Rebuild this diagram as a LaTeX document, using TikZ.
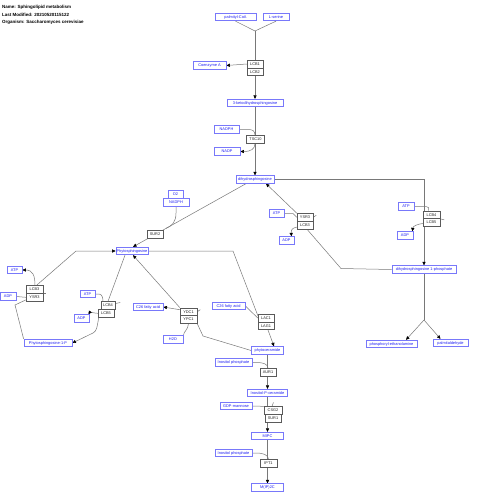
\documentclass[tikz,border=0pt]{standalone}
\usepackage{fontspec}
\setmainfont{Liberation Sans}
\usetikzlibrary{arrows.meta,backgrounds,calc}
\definecolor{metblue}{RGB}{30,30,245}
\definecolor{metborder}{RGB}{120,120,250}
\definecolor{edgegray}{RGB}{120,120,120}
\definecolor{enzborder}{RGB}{90,90,90}
\begin{document}
\begin{tikzpicture}[x=1pt,y=-1pt,
  met/.style={draw=metborder, line width=0.8pt, fill=white, text=metblue,
    font=\fontsize{3.9}{4.7}\selectfont, minimum height=7.5pt, inner sep=0pt},
  enz/.style={draw=enzborder, line width=0.5pt, fill=white, text=black!85,
    font=\fontsize{3.9}{4.7}\selectfont, minimum height=7.8pt, minimum width=16pt, inner sep=0pt},
  ttl/.style={anchor=west, inner sep=0pt, font=\bfseries\fontsize{4.5}{5.5}\selectfont},
  ln/.style={draw=edgegray, line width=0.5pt},
  arr/.style={ln, -{Triangle[length=3.5pt,width=3.2pt,black]}},
]
\useasboundingbox (0,0) rectangle (480,504);

% titles
\node[ttl] (t1) at (2,7) {Name: Sphingolipid metabolism};
\node[ttl] (t2) at (2,14.8) {Last Modified: 20210520115122};
\node[ttl] (t3) at (2,22.4) {Organism: Saccharomyces cerevisiae};

% metabolites
\node[met, minimum width=41pt] (palm) at (235.5,17) {palmityl-CoA};
\node[met, minimum width=26pt] (lser) at (276,17) {L-serine};
\node[met, minimum width=33pt] (coa) at (209.5,65.5) {Coenzyme A};
\node[met, minimum width=56pt] (keto) at (255,103) {3-ketodihydrosphingosine};
\node[met, minimum width=25pt] (nadph1) at (226.5,129.5) {NADPH};
\node[met, minimum width=26pt] (nadp) at (227,151.5) {NADP};
\node[met, minimum width=38pt] (dhs) at (255,179.5) {dihydrosphingosine};
\node[met, minimum width=64pt] (dhs1p) at (424,269.5) {dihydrosphingosine 1-phosphate};
\node[met, minimum width=15pt] (o2) at (175.5,194.5) {O2};
\node[met, minimum width=26pt] (nadph2) at (176,202.5) {NADPH};
\node[met, minimum width=32pt] (phyto) at (132,251) {Phytosphingosine};
\node[met, minimum width=15pt] (atp2) at (276.5,213.5) {ATP};
\node[met, minimum width=15pt] (adp2) at (286.5,240.5) {ADP};
\node[met, minimum width=16pt] (atp3) at (406,206.5) {ATP};
\node[met, minimum width=16pt] (adp3) at (405,235.5) {ADP};
\node[met, minimum width=15pt] (atp1) at (14.5,270) {ATP};
\node[met, minimum width=16pt] (adp1) at (8,296.5) {ADP};
\node[met, minimum width=48pt] (phyto1p) at (48,343) {Phytosphingosine-1-P};
\node[met, minimum width=15pt] (atp4) at (87.5,294) {ATP};
\node[met, minimum width=15pt] (adp4) at (81.5,318.5) {ADP};
\node[met, minimum width=30pt] (c26a) at (148,307) {C26 fatty acid};
\node[met, minimum width=20pt] (h2o) at (173,339.5) {H2O};
\node[met, minimum width=33pt] (c26b) at (228.5,306) {C26 fatty acid};
\node[met, minimum width=32pt] (phcer) at (267.5,350.5) {phytoceramide};
\node[met, minimum width=37pt] (ip1) at (233.5,362.5) {Inositol phosphate};
\node[met, minimum width=40pt] (ipc) at (267.5,393) {Inositol-P-ceramide};
\node[met, minimum width=32pt] (gdp) at (236,406) {GDP-mannose};
\node[met, minimum width=32pt] (mipc) at (267.5,436) {MIPC};
\node[met, minimum width=37pt] (ip2) at (233.5,453) {Inositol phosphate};
\node[met, minimum width=32pt] (mip2c) at (267.5,487.5) {M(IP)2C};
\node[met, minimum width=51pt] (pea) at (391.5,344) {phosphoryl-ethanolamine};
\node[met, minimum width=35pt] (palm2) at (450.5,343) {palmitaldehyde};

% enzymes
\node[enz] (lcb1) at (255,64) {LCB1};
\node[enz] (lcb2) at (255,71.8) {LCB2};
\node[enz, minimum width=18pt] (tsc10) at (255.5,139.5) {TSC10};
\node[enz] (sur2) at (155,234.5) {SUR2};
\node[enz] (ysr3b) at (305,217.3) {YSR3};
\node[enz] (lcb3b) at (305,225.1) {LCB3};
\node[enz, minimum width=17pt] (lcb4c) at (431.5,214.7) {LCB4};
\node[enz, minimum width=17pt] (lcb5c) at (431.5,222.5) {LCB5};
\node[enz, minimum width=17pt] (lcb3a) at (34.5,289.5) {LCB3};
\node[enz, minimum width=17pt] (ysr3a) at (34.5,297.3) {YSR3};
\node[enz, minimum width=14pt] (lcb4m) at (108,305.5) {LCB4};
\node[enz] (lcb5m) at (106,313.3) {LCB5};
\node[enz, minimum width=17pt] (ydc1) at (188.5,311.7) {YDC1};
\node[enz, minimum width=17pt] (ypc1) at (188.5,319.5) {YPC1};
\node[enz] (lac1) at (266,318) {LAC1};
\node[enz] (lag1) at (266,325.8) {LAG1};
\node[enz] (aur1) at (268,372) {AUR1};
\node[enz, minimum width=18pt] (csg2) at (273,410.5) {CSG2};
\node[enz] (sur1) at (273,418.3) {SUR1};
\node[enz, minimum width=17pt] (ipt1) at (268.5,463) {IPT1};

\begin{pgfonlayer}{background}
\fill[white] (0,0) rectangle (480,504);
% serine palmitoyltransferase
\coordinate (j1) at (255,31);
\draw[ln] (palm.south) -- (j1);
\draw[ln] (lser.south) -- (j1);
\draw[arr] (j1) -- (keto.north);
\draw[arr] (lcb1.west) -- (coa.east);
% TSC10
\draw[arr] (keto.south) -- (dhs.north);
\draw[ln] (nadph1.east) -- (248,129.5) .. controls (253,129.5) and (255,131) .. (255,135.6);
\draw[arr] (255,143.4) .. controls (255,149) and (251,151.5) .. (nadp.east);
% dihydrosphingosine -> dhs1p
\draw[arr] (dhs.east) -- (424,179.5) -- (dhs1p.north);
\draw[ln] (atp3.east) -- (426,206.5) .. controls (429,206.5) and (429,208) .. ($(lcb4c.north)+(-3,0)$);
\draw[arr] ($(lcb5c.west)+(0,1)$) .. controls (418,224) and (413,226) .. ($(adp3.north east)+(-1,0)$);
\draw[ln] ($(lcb4c.south east)+(0,0)$) -- ++(4,1);
% SUR2
\coordinate (s0) at ($(dhs.south)+(-9,0)$);
\coordinate (s1) at ($(phyto.north)+(1,0)$);
\draw[arr] (s0) -- (s1);
\coordinate (s2) at ($(s0)!0.71!(s1)$);
\draw[ln] (nadph2.south) -- (176,213) .. controls (176,222) and (172,226) .. (s2);
% phyto -> LAC1 -> phytoceramide
\draw[arr] (phyto.east) -- (233,251) -- (258,316) -- (268,330) -- ($(phcer.north)+(6.5,0)$);
\draw[ln] (c26b.east) -- (lac1.west);
% YDC1 / YPC1
\draw[arr] (ydc1.north west) -- ($(phyto.south)+(1,0)$);
\draw[arr] ($(ydc1.west)+(0,-2)$) -- (c26a.east);
\draw[ln] (ypc1.south) .. controls (188,330) and (184,331) .. (h2o.north east);
\draw[ln] (ypc1.south east) -- (203,336) -- (phcer.west);
\draw[ln] ($(ydc1.east)+(0,0)$) -- ++(3,-2);
% LCB4 / LCB5 (middle)
\draw[ln] ($(phyto.south)+(-7,0)$) -- (lcb4m.north);
\draw[arr] ($(lcb5m.south west)+(1,0)$) .. controls (97,327) and (97,331) .. (93,333) -- (phyto1p.east);
\draw[ln] (atp4.east) -- (99,294) .. controls (102,294) and (103,298) .. ($(lcb4m.north)+(-5,0)$);
\draw[arr] (lcb5m.west) .. controls (93,313) and (90,312) .. ($(adp4.north east)+(-1,0)$);
\draw[ln] ($(lcb4m.east)+(0,-2)$) -- ++(5,-1);
% LCB3 / YSR3 (left)
\draw[arr] ($(lcb3a.north)+(2,0)$) -- (76,251) -- (phyto.west);
\draw[arr] ($(lcb3a.north)+(0.5,0)$) .. controls (35,276) and (33,270) .. (atp1.east);
\draw[ln] (adp1.east) -- (ysr3a.west);
\draw[ln] ($(ysr3a.south west)+(0,-1.5)$) -- (15,305) -- (phyto1p.north west);
\draw[ln] (lcb3a.south east) -- ++(3,0);
% YSR3 / LCB3 (upper)
\draw[arr] (ysr3b.north west) -- ($(dhs.south)+(11,0)$);
\draw[ln] (dhs1p.west) -- (341,268.5) -- ($(lcb3b.south)+(2,0)$);
\draw[ln] (atp2.east) -- (293,213.5) -- (ysr3b.west);
\draw[arr] ($(lcb3b.west)+(0,2)$) .. controls (293,228) and (291,229) .. ($(adp2.north east)+(-3,0)$);
\draw[ln] (ysr3b.east) -- ++(3,-2);
% dhs1p lyase
\coordinate (j2) at (424,320);
\draw[ln] (dhs1p.south) -- (j2);
\draw[arr] (j2) -- ($(pea.north)+(14.5,0)$);
\draw[arr] (j2) -- ($(palm2.north)+(-10,0)$);
% AUR1
\draw[arr] (phcer.south) -- (ipc.north);
\draw[ln] (ip1.east) -- (257,362.5) .. controls (263,362.5) and (267.5,364) .. (aur1.north);
% CSG2 / SUR1
\draw[arr] (ipc.south) -- (mipc.north);
\draw[ln] (gdp.east) -- (csg2.north west);
\draw[ln] ($(csg2.north)+(-1,0)$) -- ++(1.5,-4);
% IPT1
\draw[arr] (mipc.south) -- (mip2c.north);
\draw[ln] (ip2.east) -- (257,453) .. controls (263,453) and (268,455) .. (ipt1.north);
\end{pgfonlayer}
\end{tikzpicture}
\end{document}
